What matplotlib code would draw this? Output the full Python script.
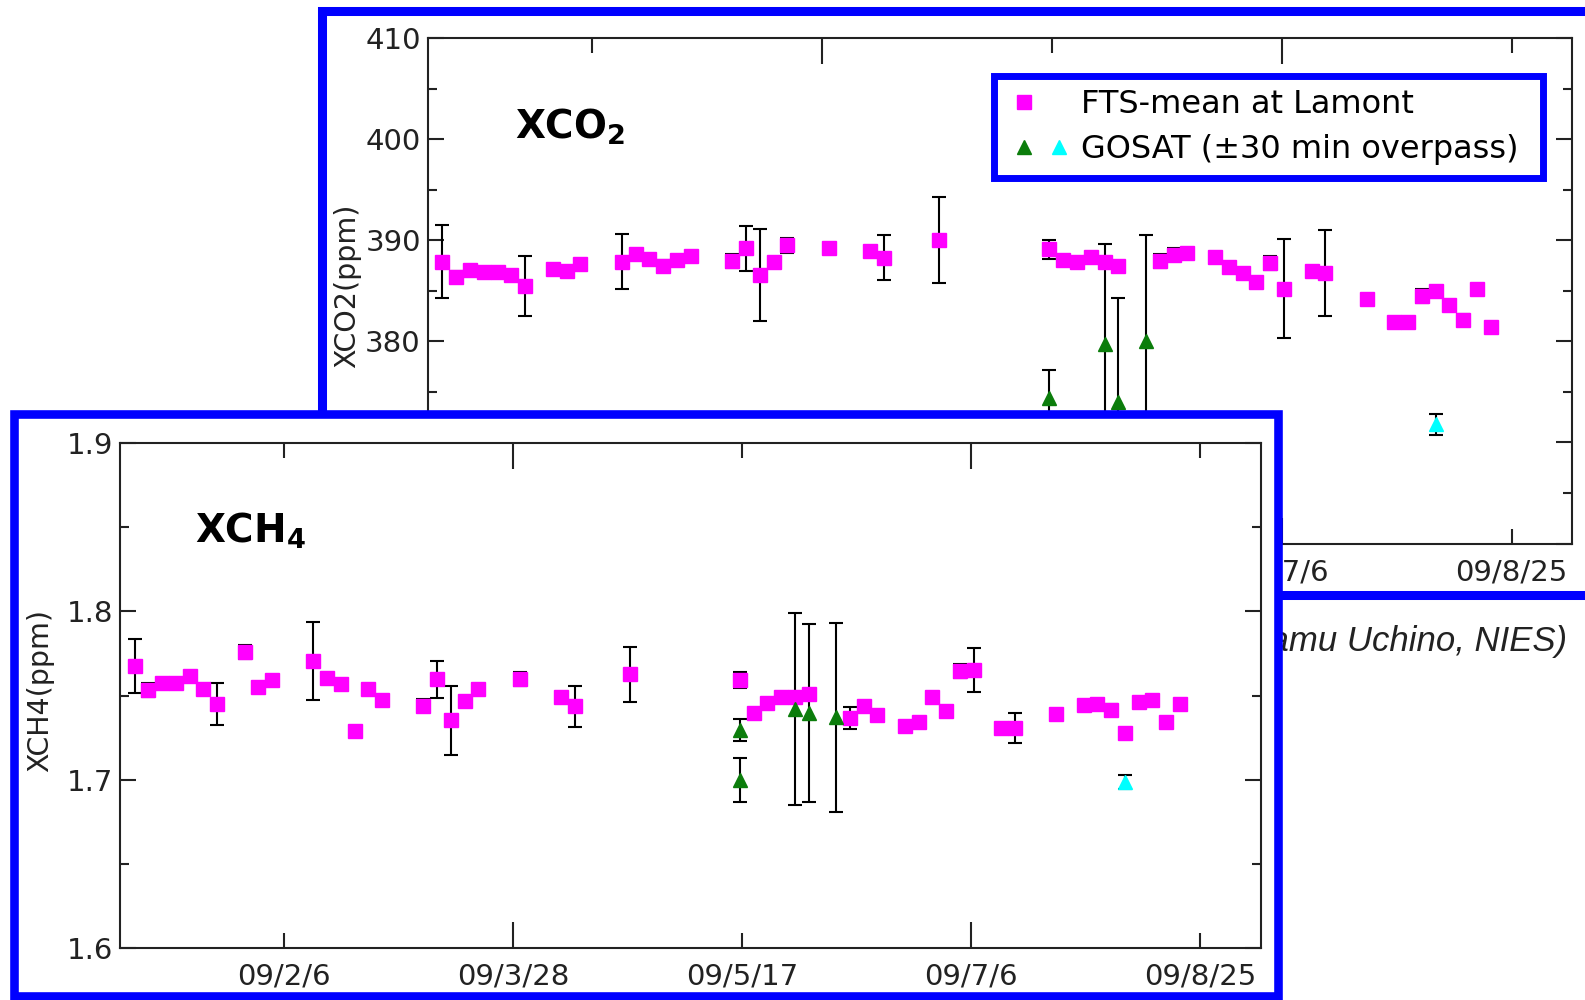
import matplotlib
matplotlib.use('Agg')
import matplotlib.pyplot as plt
import matplotlib.dates as mdates
from matplotlib.ticker import FixedLocator, MultipleLocator, FuncFormatter, FormatStrFormatter
from matplotlib.patches import Rectangle
from matplotlib.lines import Line2D
from matplotlib.legend_handler import HandlerTuple
import pandas as pd

plt.rcParams['font.family'] = ['DejaVu Sans']

# ---------------- data ----------------
fts_dates = ['2009-01-04', '2009-01-07', '2009-01-10', '2009-01-13', '2009-01-16', '2009-01-19',
             '2009-01-22', '2009-01-28', '2009-01-31', '2009-02-03', '2009-02-12', '2009-02-15',
             '2009-02-18', '2009-02-21', '2009-02-24', '2009-02-27', '2009-03-08', '2009-03-11',
             '2009-03-14', '2009-03-17', '2009-03-20', '2009-03-29', '2009-04-07', '2009-04-10',
             '2009-04-22', '2009-05-16', '2009-05-19', '2009-05-22', '2009-05-25', '2009-05-28',
             '2009-05-31', '2009-06-09', '2009-06-12', '2009-06-15', '2009-06-21', '2009-06-24',
             '2009-06-27', '2009-06-30', '2009-07-03', '2009-07-06', '2009-07-12', '2009-07-15',
             '2009-07-24', '2009-07-30', '2009-08-02', '2009-08-05', '2009-08-08', '2009-08-11',
             '2009-08-14', '2009-08-17', '2009-08-20']

xco2_fts = [387.9, 386.4, 387.1, 386.9, 386.9, 386.6, 385.5, 387.2, 387.0, 387.7,
            387.9, 388.7, 388.2, 387.5, 388.1, 388.5, 388.0, 389.2, 386.6, 387.9,
            389.5, 389.2, 388.9, 388.3, 390.0, 389.1, 388.1, 387.9, 388.35, 387.9,
            387.5, 388.0, 388.6, 388.8, 388.35, 387.4, 386.8, 385.9, 387.75, 385.2,
            387.0, 386.8, 384.2, 381.9, 381.9, 384.5, 385.0, 383.6, 382.1, 385.2, 381.4]
xco2_fts_err = [3.6, 0.6, 0.3, 0.5, 0.3, 0.4, 3.0, 0.3, 0.3, 0.3,
                2.7, 0.3, 0.3, 0.6, 0.3, 0.3, 0.7, 2.2, 4.55, 0.2,
                0.7, 0.5, 0.3, 2.25, 4.25, 0.9, 0.3, 0.5, 0.3, 0.4,
                0.4, 0.7, 0.6, 0.3, 0.3, 0.3, 0.3, 0.4, 0.7, 4.9,
                0.5, 4.25, 0.3, 0.3, 0.5, 0.7, 0.3, 0.5, 0.6, 0.3, 0.3]

xch4_fts = [1.7675, 1.7533, 1.7577, 1.7573, 1.7614, 1.7538, 1.7451, 1.7760, 1.7549, 1.7592,
            1.7706, 1.7604, 1.7567, 1.7291, 1.7539, 1.7474, 1.7439, 1.7598, 1.7352, 1.7467,
            1.7541, 1.7597, 1.7494, 1.7435, 1.7626, 1.7592, 1.7396, 1.7455, 1.7494, 1.7490,
            1.7510, 1.7364, 1.7435, 1.7386, 1.7321, 1.7343, 1.7494, 1.7408, 1.7646, 1.7652,
            1.7305, 1.7305, 1.7390, 1.7445, 1.7451, 1.7415, 1.7278, 1.7461, 1.7474, 1.7340, 1.7451]
xch4_fts_err = [0.016, 0.004, 0.002, 0.002, 0.002, 0.002, 0.0125, 0.004, 0.002, 0.002,
                0.023, 0.002, 0.002, 0.003, 0.002, 0.002, 0.004, 0.011, 0.0205, 0.003,
                0.003, 0.004, 0.002, 0.012, 0.0165, 0.0045, 0.002, 0.002, 0.002, 0.002,
                0.003, 0.0065, 0.003, 0.002, 0.002, 0.002, 0.002, 0.002, 0.004, 0.0133,
                0.002, 0.009, 0.002, 0.002, 0.002, 0.0037, 0.002, 0.002, 0.003, 0.002, 0.002]

gosat_co2_dates = ['2009-05-16', '2009-05-28', '2009-05-31', '2009-06-06']
gosat_co2 = [374.4, 379.7, 374.0, 380.0]
gosat_co2_err = [2.8, 9.9, 10.3, 10.5]

gosat_ch4_dates = ['2009-05-16', '2009-05-16', '2009-05-28', '2009-05-31', '2009-06-06']
gosat_ch4 = [1.7297, 1.6998, 1.7421, 1.7396, 1.7370]
gosat_ch4_err = [0.0066, 0.013, 0.057, 0.053, 0.056]

gosat_b_dates = ['2009-08-08']
gosat_b_co2 = [371.8]
gosat_b_co2_err = [1.05]
gosat_b_ch4 = [1.6986]
gosat_b_ch4_err = [0.004]

long_tick_dates = ['2009-03-28', '2009-07-06']
short_tick_dates = ['2009-02-06', '2009-05-17', '2009-08-25']

legend_labels = ['FTS-mean at Lamont', 'GOSAT (\u00b130 min overpass)']

# ---------------- style ----------------
W, H = 1585, 1000
MAGENTA = '#ff00ff'
GREEN = '#0b7d0b'
CYAN = '#00ffff'
BLUE = '#0000ff'
INK = '#222222'
OVERPASS = pd.Timedelta(hours=12)
XMIN = pd.Timestamp('2009-01-01 07:00')
XMAX = pd.Timestamp('2009-09-07 05:00')
TICKFS = 21


def to_dt(lst):
    return pd.to_datetime(lst) + OVERPASS


def date_label(v, pos=None):
    d = mdates.num2date(v)
    return f"{d:%y}/{d.month}/{d.day}"


def style_axes(ax, ylim, major, minor, yfmt):
    ax.set_xlim(XMIN, XMAX)
    ax.set_ylim(*ylim)
    ax.yaxis.set_major_locator(MultipleLocator(major))
    ax.yaxis.set_minor_locator(MultipleLocator(minor))
    ax.yaxis.set_major_formatter(FormatStrFormatter(yfmt))
    ax.xaxis.set_major_locator(FixedLocator(mdates.date2num(pd.to_datetime(long_tick_dates))))
    ax.xaxis.set_minor_locator(FixedLocator(mdates.date2num(pd.to_datetime(short_tick_dates))))
    ax.xaxis.set_major_formatter(FuncFormatter(date_label))
    ax.xaxis.set_minor_formatter(FuncFormatter(date_label))
    ax.tick_params(axis='both', which='both', direction='in', top=True, right=True,
                   color=INK, width=1.5, labelsize=TICKFS, labelcolor=INK)
    ax.tick_params(axis='y', which='major', length=11.5, pad=5)
    ax.tick_params(axis='y', which='minor', length=6.5)
    ax.tick_params(axis='x', which='major', length=19, pad=10.5)
    ax.tick_params(axis='x', which='minor', length=10.5, pad=10.5)
    for s in ax.spines.values():
        s.set_linewidth(1.5)
        s.set_color(INK)


def draw_series(ax, dates, vals, errs, marker, color, ms):
    ax.errorbar(to_dt(dates), vals, yerr=errs, fmt=marker, ms=ms, mfc=color, mec=color,
                ecolor='black', elinewidth=1.5, capsize=4.7, capthick=1.5)


fig = plt.figure(figsize=(W / 100, H / 100), dpi=100)
fig.patch.set_facecolor('white')

# upper (XCO2) panel frame
fig.add_artist(Rectangle((321.5 / W, 1 - 594.5 / H), (1700 - 321.5) / W, (594.5 - 10.5) / H,
                         transform=fig.transFigure, facecolor='white', edgecolor=BLUE,
                         linewidth=6.5, zorder=0.5))

ax1 = fig.add_axes([427.7 / W, 1 - 543.5 / H, (1572.3 - 427.7) / W, 505.2 / H], zorder=1)
style_axes(ax1, (360, 410), 10, 5, '%d')
draw_series(ax1, fts_dates, xco2_fts, xco2_fts_err, 's', MAGENTA, 9.5)
draw_series(ax1, gosat_co2_dates, gosat_co2, gosat_co2_err, '^', GREEN, 10)
draw_series(ax1, gosat_b_dates, gosat_b_co2, gosat_b_co2_err, '^', CYAN, 10)
ax1.set_ylabel('XCO2(ppm)', fontsize=20.5, color=INK)
ax1.yaxis.set_label_coords(-0.058, 0.51)
ax1.text(0.0765, 0.802, r'XCO$_\mathbf{2}$', transform=ax1.transAxes, fontsize=28,
         fontweight='bold', va='baseline', ha='left', color='black')

sq = Line2D([], [], ls='none', marker='s', ms=9.5, color=MAGENTA)
blank = Line2D([], [], ls='none', marker=None)
gtri = Line2D([], [], ls='none', marker='^', ms=10, color=GREEN)
ctri = Line2D([], [], ls='none', marker='^', ms=10, color=CYAN)
leg_x0, leg_x1, leg_top, leg_h = 994, 1543, 76.3, 102
leg = ax1.legend([(sq, blank), (gtri, ctri)], legend_labels,
                 handler_map={tuple: HandlerTuple(ndivide=None, pad=0)},
                 loc='upper left',
                 bbox_to_anchor=(leg_x0 / W, 1 - (leg_top + leg_h) / H,
                                 (leg_x1 - leg_x0) / W, leg_h / H),
                 mode='expand',
                 bbox_transform=fig.transFigure, borderaxespad=0, fontsize=23,
                 handlelength=2.16, handletextpad=0.16, labelspacing=0.45,
                 borderpad=0.4, fancybox=False, framealpha=1)
leg.get_frame().set_edgecolor(BLUE)
leg.get_frame().set_linewidth(5)
for t in leg.get_texts():
    t.set_color('black')

# credit text (partially hidden by the lower panel)
fig.text(1567 / W, 1 - 641 / H, '(Courtesy of Osamu Uchino, NIES)', ha='right', va='center',
         fontsize=25, style='italic', family='Liberation Sans', color=INK, zorder=1.5)

# lower (XCH4) panel frame
fig.add_artist(Rectangle((14 / W, 1 - 995.5 / H), (1277.5 - 14) / W, (995.5 - 413.8) / H,
                         transform=fig.transFigure, facecolor='white', edgecolor=BLUE,
                         linewidth=6.2, zorder=2))

ax2 = fig.add_axes([120 / W, 1 - 947.7 / H, (1261 - 120) / W, 504.4 / H], zorder=3)
style_axes(ax2, (1.6, 1.9), 0.1, 0.05, '%.1f')
draw_series(ax2, fts_dates, xch4_fts, xch4_fts_err, 's', MAGENTA, 9.5)
draw_series(ax2, gosat_ch4_dates, gosat_ch4, gosat_ch4_err, '^', GREEN, 10)
draw_series(ax2, gosat_b_dates, gosat_b_ch4, gosat_b_ch4_err, '^', CYAN, 10)
ax2.set_ylabel('XCH4(ppm)', fontsize=20.5, color=INK)
ax2.yaxis.set_label_coords(-0.058, 0.51)
ax2.text(0.0655, 0.803, r'XCH$_\mathbf{4}$', transform=ax2.transAxes, fontsize=28,
         fontweight='bold', va='baseline', ha='left', color='black')

fig.savefig('out.png', dpi=100, facecolor='white')
